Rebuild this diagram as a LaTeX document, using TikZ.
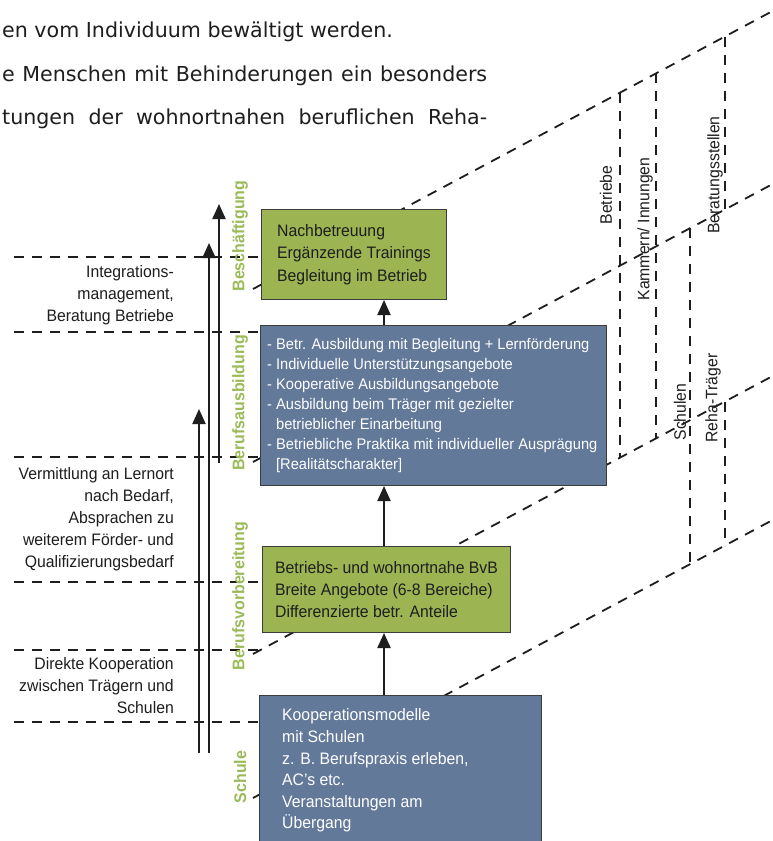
\documentclass[tikz,border=0pt]{standalone}
\usepackage{fontspec}
\setmainfont{Liberation Sans}[FakeStretch=0.95]
\newfontfamily\bodyfont{DejaVu Sans}
\usetikzlibrary{arrows.meta}
\definecolor{boxgreen}{HTML}{9CB452}
\definecolor{boxblue}{HTML}{62799A}
\definecolor{labgreen}{HTML}{9BBB59}
\definecolor{edgegray}{HTML}{3C3C3C}
\definecolor{ink}{HTML}{1E1E1E}
\begin{document}
\begin{tikzpicture}[x=1pt,y=-1pt,
  dline/.style={ink, line width=1.8pt, dash pattern=on 10pt off 8pt},
  arr/.style={ink, line width=2pt, -{Triangle[width=13pt,length=15pt]}},
  gbox/.style={draw=edgegray, line width=1pt, fill=boxgreen, anchor=north west, inner sep=0pt},
  bbox/.style={draw=edgegray, line width=1pt, fill=boxblue, anchor=north west, inner sep=0pt},
  gtext/.style={text=ink, align=left, anchor=west, inner sep=0pt},
  btext/.style={text=white, align=left, anchor=west, inner sep=0pt},
  phase/.style={text=labgreen, font=\bfseries\fontsize{16.8}{18}\selectfont, rotate=90, inner sep=0pt},
  side/.style={text=ink, align=right, anchor=north east, inner sep=0pt, font=\fontsize{16.6}{22}\selectfont},
  body/.style={text=ink, anchor=base west, inner sep=0pt, font=\bodyfont\fontsize{20.6}{24}\selectfont},
  vlab/.style={text=ink, rotate=90, inner sep=0pt, font=\fontsize{16.6}{18}\selectfont},
]
\useasboundingbox (0,0) rectangle (773,841);
\fill[white] (0,0) rectangle (773,841);

% running text above the figure
\node[body] (t1) at (2,37) {en vom Individuum bewältigt werden.};
\node[body] (t2) at (2,81) {\makebox[485pt][s]{e Menschen mit Behinderungen ein besonders}};
\node[body] (t3) at (2,124) {\makebox[485pt][s]{tungen der wohnortnahen beruflichen Reha-}};

% horizontal dashed separators on the left
\foreach \yy/\nm in {257/h1,332/h2,457/h3,582/h4,650/h5,722/h6} {
  \coordinate (\nm a) at (14,\yy);
  \coordinate (\nm b) at (259,\yy);
  \draw[dline] (\nm a) -- (\nm b);
}

% receding diagonal planes
\coordinate (d4a) at (253,289);   \coordinate (d4b) at (773,10.8);
\coordinate (d3a) at (253,462);   \coordinate (d3b) at (773,183.8);
\coordinate (d2a) at (253,654);   \coordinate (d2b) at (773,375.8);
\coordinate (d1a) at (253,798);   \coordinate (d1b) at (773,519.8);
\draw[dline] (d4a) -- (d4b);
\draw[dline] (d3a) -- (d3b);
\draw[dline] (d2a) -- (d2b);
\draw[dline] (d1a) -- (d1b);

% vertical dashed columns
\coordinate (v1a) at (620,92.7);  \coordinate (v1b) at (620,457.7);
\coordinate (v2a) at (656,73.4);  \coordinate (v2b) at (656,438.4);
\coordinate (v3a) at (725,36.5);  \coordinate (v3b) at (725,209.5);
\coordinate (v4a) at (690,228.2); \coordinate (v4b) at (690,564.2);
\coordinate (v5a) at (725,401.5); \coordinate (v5b) at (725,545.5);
\draw[dline] (v1a) -- (v1b);
\draw[dline] (v2a) -- (v2b);
\draw[dline] (v3a) -- (v3b);
\draw[dline] (v4a) -- (v4b);
\draw[dline] (v5a) -- (v5b);

% column labels
\node[vlab] (r1) at (606,195) {Betriebe};
\node[vlab] (r2) at (645,229) {Kammern/ Innungen};
\node[vlab] (r3) at (715,175) {Beratungsstellen};
\node[vlab] (r4) at (680,412) {Schulen};
\node[vlab] (r5) at (713,398) {Reha-Träger};

% boxes
\node[gbox, minimum width=185pt, minimum height=90pt] (nb) at (261,209) {};
\node[gtext, font=\fontsize{16.6}{22.5}\selectfont] (nbt) at ([xshift=16pt]nb.west)
  {Nachbetreuung\\Ergänzende Trainings\\Begleitung im Betrieb};

\node[bbox, minimum width=346pt, minimum height=160pt] (ba) at (260,325) {};
\node[btext, font=\fontsize{15.4}{20}\selectfont] (bat) at ([xshift=7pt]ba.west)
  {- Betr. Ausbildung mit Begleitung + Lernförderung\\
   - Individuelle Unterstützungsangebote\\
   - Kooperative Ausbildungsangebote\\
   - Ausbildung beim Träger mit gezielter\\
   \phantom{- }betrieblicher Einarbeitung\\
   - Betriebliche Praktika mit individueller Ausprägung\\
   \phantom{- }[Realitätscharakter]};

\node[gbox, minimum width=248pt, minimum height=86pt] (bvb) at (262,546) {};
\node[gtext, font=\fontsize{16.6}{22}\selectfont] (bvbt) at ([xshift=13pt]bvb.west)
  {Betriebs- und wohnortnahe BvB\\Breite Angebote (6-8 Bereiche)\\Differenzierte betr. Anteile};

\node[bbox, minimum width=282pt, minimum height=150pt] (koop) at (259,695) {};
\node[btext, font=\fontsize{16.6}{21.6}\selectfont] (koopt) at ([xshift=23pt]koop.west)
  {Kooperationsmodelle\\mit Schulen\\z. B. Berufspraxis erleben,\\AC’s etc.\\Veranstaltungen am\\Übergang};

% arrows between boxes
\coordinate (ax) at (384,0);
\draw[arr] (koop.north -| ax) -- (bvb.south -| ax);
\draw[arr] (bvb.north -| ax) -- (ba.south -| ax);
\draw[arr] (ba.north -| ax) -- (nb.south -| ax);

% long arrows on the left
\coordinate (a1s) at (199,753); \coordinate (a1e) at (199,409);
\coordinate (a2s) at (209,753); \coordinate (a2e) at (209,243);
\coordinate (a3s) at (219,463); \coordinate (a3e) at (219,204);
\draw[arr] (a1s) -- (a1e);
\draw[arr] (a2s) -- (a2e);
\draw[arr] (a3s) -- (a3e);

% phase labels
\node[phase] (lb1) at (240,236) {Beschäftigung};
\node[phase] (lb2) at (240,403) {Berufsausbildung};
\node[phase] (lb3) at (240,596) {Berufsvorbereitung};
\node[phase] (lb4) at (240,777) {Schule};

% side texts
\node[side] (s1) at (174,265.5) {Integrations-\\management,\\Beratung Betriebe};
\node[side] (s2) at (174,467.5) {Vermittlung an Lernort\\nach Bedarf,\\Absprachen zu\\weiterem Förder- und\\Qualifizierungsbedarf};
\node[side] (s3) at (174,657.5) {Direkte Kooperation\\zwischen Trägern und\\Schulen};
\end{tikzpicture}
\end{document}
